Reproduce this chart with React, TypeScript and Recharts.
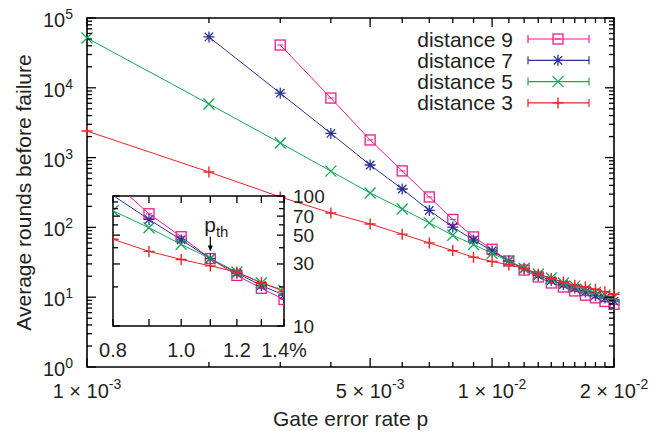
import { ComposedChart, Scatter, XAxis, YAxis, ReferenceArea, ReferenceDot, Legend, CartesianGrid } from 'recharts';

// gate error rate p
const errorRates = [
  0.001, 0.002, 0.003, 0.004, 0.005, 0.006, 0.007, 0.008, 0.009, 0.01,
  0.011, 0.012, 0.013, 0.014, 0.015, 0.016, 0.017, 0.018, 0.019, 0.02,
];

// average rounds before failure, one entry per error rate (null = not measured)
const distance9 = [null, null, 41000, 7130, 1790, 645, 273, 130, 73, 48.6, 33, 24.5, 19.5, 16, 14, 12.3, 10.7, 9.8, 8.7, 7.9];
const distance7 = [null, 53500, 8380, 2220, 783, 355, 175, 101, 66, 46, 33, 25.5, 20.5, 17.3, 15.2, 13.5, 11.9, 10.6, 9.7, 8.8];
const distance5 = [51600, 5860, 1620, 640, 311, 184, 116, 77, 57, 42.5, 33, 26, 21.5, 18.8, 16, 14.4, 13, 11.8, 10.8, 10];
const distance3 = [2400, 622, 273, 161, 112, 80, 60, 46.5, 37.5, 32.5, 29, 26, 21.5, 18.5, 16.5, 14.8, 14, 13, 12, 11];

const seriesNames = ['distance 9', 'distance 7', 'distance 5', 'distance 3'];

// tick labels
const xLabelTicks = [0.001, 0.005, 0.01, 0.02];
const xLabelMantissas = ['1', '5', '1', '2'];
const xLabelExponents = ['-3', '-3', '-2', '-2'];
const yLabelExponents = ['0', '1', '2', '3', '4', '5'];

const insetXLabelTicks = [0.8, 1.0, 1.2, 1.4];
const insetXLabels = ['0.8', '1.0', '1.2', '1.4%'];
const insetYLabelTicks = [10, 30, 50, 70, 100];
const pThreshold = 1.1;

const FONT = '"Liberation Sans", Arial, Helvetica, sans-serif';
const TEXT = '#231f20';

const styles = [
  { color: '#ee1a8c', marker: 'square' },
  { color: '#2e3192', marker: 'star' },
  { color: '#16a85a', marker: 'cross' },
  { color: '#ee2229', marker: 'plus' },
];

const seriesValues = [distance9, distance7, distance5, distance3];

const toPoints = (values: (number | null)[]) =>
  errorRates
    .map((p, i) => ({ x: p, y: values[i] }))
    .filter((d) => d.y !== null) as { x: number; y: number }[];

const series = seriesNames.map((name, i) => ({
  name,
  ...styles[i],
  points: toPoints(seriesValues[i]),
}));

// inset: p in percent, 0.8 .. 1.4 %
const insetSeries = series.map((s) => ({
  ...s,
  points: s.points
    .map((d) => ({ x: Math.round(d.x * 1000) / 10, y: d.y }))
    .filter((d) => d.x >= 0.8 && d.x <= 1.4),
}));

// main plot area (px)
const PLOT = { left: 87, right: 614, top: 18, bottom: 367 };
// inset plot area inside its own svg
const INSET = { left: 28, right: 199, top: 21, bottom: 151 };

const xTicks = Array.from({ length: 20 }, (_, i) => (i + 1) / 1000);
const yTicks: number[] = [];
for (let d = 0; d < 5; d++) {
  for (let m = 1; m <= 9; m++) yTicks.push(Number((m * 10 ** d).toPrecision(6)));
}
yTicks.push(100000);
const insetXTicks = [0.8, 0.9, 1.0, 1.1, 1.2, 1.3, 1.4];
const insetYTicks = [10, 20, 30, 40, 50, 60, 70, 80, 90, 100];

const near = (a: number, b: number) => Math.abs(a - b) < 1e-9 * Math.max(1, Math.abs(b));

function Marker({ cx, cy, kind, color }: { cx: number; cy: number; kind: string; color: string }) {
  const s = 5.5;
  const plus = `M${cx - s},${cy}H${cx + s}M${cx},${cy - s}V${cy + s}`;
  const k = 4.2;
  const cross = `M${cx - k},${cy - k}L${cx + k},${cy + k}M${cx - k},${cy + k}L${cx + k},${cy - k}`;
  if (kind === 'square') {
    return (
      <g>
        <rect x={cx - 5} y={cy - 5} width={10} height={10} fill="none" stroke={color} strokeWidth={1.3} />
        <line x1={cx - 3} x2={cx + 3} y1={cy} y2={cy} stroke={color} strokeWidth={1} />
      </g>
    );
  }
  if (kind === 'plus') return <path d={plus} stroke={color} strokeWidth={1.4} fill="none" />;
  if (kind === 'cross') return <path d={`M${cx - s},${cy - s}L${cx + s},${cy + s}M${cx - s},${cy + s}L${cx + s},${cy - s}`} stroke={color} strokeWidth={1.3} fill="none" />;
  return <path d={plus + cross} stroke={color} strokeWidth={1.3} fill="none" />;
}

const MainXTick = (props: any) => {
  const { x, payload } = props;
  const idx = xLabelTicks.findIndex((t) => near(t, payload.value));
  const len = idx >= 0 || near(payload.value, 0.01) ? 9 : 5;
  return (
    <g>
      <line x1={x} x2={x} y1={PLOT.bottom} y2={PLOT.bottom - len} stroke="#000" strokeWidth={1.3} />
      <line x1={x} x2={x} y1={PLOT.top} y2={PLOT.top + len} stroke="#000" strokeWidth={1.3} />
      {idx >= 0 && (
        <text x={x} y={PLOT.bottom + 31} textAnchor="middle" fontSize={20} fontFamily={FONT} fill={TEXT}>
          {xLabelMantissas[idx]} × 10
          <tspan dy={-9} fontSize={14}>
            {xLabelExponents[idx]}
          </tspan>
        </text>
      )}
    </g>
  );
};

const MainYTick = (props: any) => {
  const { y, payload } = props;
  const lg = Math.log10(payload.value);
  const major = near(lg, Math.round(lg));
  const len = major ? 9 : 5;
  return (
    <g>
      <line x1={PLOT.left} x2={PLOT.left + len} y1={y} y2={y} stroke="#000" strokeWidth={1.3} />
      <line x1={PLOT.right} x2={PLOT.right - len} y1={y} y2={y} stroke="#000" strokeWidth={1.3} />
      {major && (
        <text x={73} y={y + 9} textAnchor="end" fontSize={20} fontFamily={FONT} fill={TEXT}>
          10
          <tspan dy={-8} fontSize={14}>
            {yLabelExponents[Math.round(lg)]}
          </tspan>
        </text>
      )}
    </g>
  );
};

const InsetXTick = (props: any) => {
  const { x, payload } = props;
  const idx = insetXLabelTicks.findIndex((t) => near(t, payload.value));
  return (
    <g>
      <line x1={x} x2={x} y1={INSET.bottom} y2={INSET.bottom - 7} stroke="#000" strokeWidth={1.3} />
      <line x1={x} x2={x} y1={INSET.top} y2={INSET.top + 7} stroke="#000" strokeWidth={1.3} />
      {idx >= 0 && (
        <text x={x} y={INSET.bottom + 31} textAnchor="middle" fontSize={20} fontFamily={FONT} fill={TEXT}>
          {insetXLabels[idx]}
        </text>
      )}
    </g>
  );
};

const InsetYTick = (props: any) => {
  const { y, payload } = props;
  const labeled = insetYLabelTicks.some((t) => near(t, payload.value));
  const len = labeled ? 7 : 5;
  return (
    <g>
      <line x1={INSET.right} x2={INSET.right - len} y1={y} y2={y} stroke="#000" strokeWidth={1.3} />
      <line x1={INSET.left} x2={INSET.left + len} y1={y} y2={y} stroke="#000" strokeWidth={1.3} />
      {labeled && (
        <text x={INSET.right + 9} y={y + 6.5} textAnchor="start" fontSize={19} fontFamily={FONT} fill={TEXT}>
          {payload.value}
        </text>
      )}
    </g>
  );
};

function LegendBox() {
  return (
    <svg width={200} height={92} style={{ display: 'block' }}>
      {series.map((s, i) => {
        const y = 11 + i * 21.3;
        return (
          <g key={s.name}>
            <text x={113} y={y + 7.5} textAnchor="end" fontSize={21} fontFamily={FONT} fill={TEXT}>
              {s.name}
            </text>
            <line x1={128} x2={189} y1={y} y2={y} stroke={s.color} strokeWidth={1.2} />
            <line x1={128} x2={128} y1={y - 4} y2={y + 4} stroke={s.color} strokeWidth={1.2} />
            <line x1={189} x2={189} y1={y - 4} y2={y + 4} stroke={s.color} strokeWidth={1.2} />
            <Marker cx={158} cy={y} kind={s.marker} color={s.color} />
          </g>
        );
      })}
    </svg>
  );
}

function PthArrow(props: any) {
  const { cx, cy } = props;
  return (
    <g>
      <text x={cx + 6} y={cy - 27} textAnchor="middle" fontSize={21} fontFamily={FONT} fill={TEXT}>
        p
        <tspan dy={5} fontSize={15}>
          th
        </tspan>
      </text>
      <line x1={cx} x2={cx} y1={cy - 22} y2={cy - 12} stroke="#000" strokeWidth={1.2} />
      <path d={`M${cx - 2.5},${cy - 13}L${cx + 2.5},${cy - 13}L${cx},${cy - 7}Z`} fill="#000" />
    </g>
  );
}

function Inset() {
  return (
    <div style={{ position: 'absolute', left: 85, top: 175 }}>
      <ComposedChart width={249} height={187} margin={{ top: 21, right: 0, left: 28, bottom: 0 }}>
        <CartesianGrid horizontal={false} vertical={false} fill="#fff" />
        <XAxis
          dataKey="x"
          type="number"
          scale="log"
          domain={[0.8, 1.4]}
          ticks={insetXTicks}
          interval={0}
          height={36}
          tickLine={false}
          axisLine={false}
          allowDataOverflow
          tick={InsetXTick}
        />
        <YAxis
          dataKey="y"
          orientation="right"
          type="number"
          scale="log"
          domain={[10, 100]}
          ticks={insetYTicks}
          interval={0}
          width={50}
          tickLine={false}
          axisLine={false}
          allowDataOverflow
          tick={InsetYTick}
        />
        <YAxis yAxisId="marks" dataKey="y" orientation="right" type="number" scale="log" domain={[10, 100]} hide />
        {insetSeries.map((s) => (
          <Scatter
            key={s.name + '-line'}
            data={s.points}
            line={{ stroke: s.color, strokeWidth: 1 }}
            lineType="joint"
            shape={() => <g />}
            isAnimationActive={false}
          />
        ))}
        {insetSeries.map((s) => (
          <Scatter
            key={s.name + '-marks'}
            yAxisId="marks"
            data={s.points.filter((d) => d.y <= 100)}
            shape={(p: any) => <Marker cx={p.cx} cy={p.cy} kind={s.marker} color={s.color} />}
            isAnimationActive={false}
          />
        ))}
        <ReferenceArea x1={0.8} x2={1.4} y1={10} y2={100} fill="none" stroke="#000" strokeWidth={1.5} />
        <ReferenceDot
          x={pThreshold}
          y={insetSeries[0].points.find((d) => near(d.x, pThreshold))!.y}
          r={0}
          shape={PthArrow}
        />
      </ComposedChart>
    </div>
  );
}

export default function App() {
  return (
    <div style={{ position: 'absolute', left: 0, top: 0, width: 669, height: 438, background: '#fff' }}>
      <ComposedChart width={669} height={438} margin={{ top: 18, right: 55, left: 0, bottom: 0 }}>
        <XAxis
          dataKey="x"
          type="number"
          scale="log"
          domain={[0.001, 0.02]}
          ticks={xTicks}
          interval={0}
          height={71}
          tickLine={false}
          axisLine={false}
          tick={MainXTick}
          label={{ value: 'Gate error rate p', position: 'insideBottom', offset: 12, fontSize: 21, fontFamily: FONT, fill: TEXT }}
        />
        <YAxis
          dataKey="y"
          type="number"
          scale="log"
          domain={[1, 100000]}
          ticks={yTicks}
          interval={0}
          width={87}
          tickLine={false}
          axisLine={false}
          tick={MainYTick}
          label={{
            value: 'Average rounds before failure',
            angle: -90,
            position: 'insideLeft',
            offset: 24,
            fontSize: 21,
            fontFamily: FONT,
            fill: TEXT,
            style: { textAnchor: 'middle' },
          }}
        />
        {series.map((s) => (
          <Scatter
            key={s.name}
            name={s.name}
            data={s.points}
            line={{ stroke: s.color, strokeWidth: 1 }}
            lineType="joint"
            shape={(p: any) => <Marker cx={p.cx} cy={p.cy} kind={s.marker} color={s.color} />}
            isAnimationActive={false}
          />
        ))}
        <ReferenceArea x1={0.001} x2={0.02} y1={1} y2={100000} fill="none" stroke="#000" strokeWidth={1.6} />
        <Legend
          layout="vertical"
          align="center"
          verticalAlign="middle"
          wrapperStyle={{ left: 400, top: 28, width: 200 }}
          content={() => <LegendBox />}
        />
      </ComposedChart>
      <Inset />
    </div>
  );
}
